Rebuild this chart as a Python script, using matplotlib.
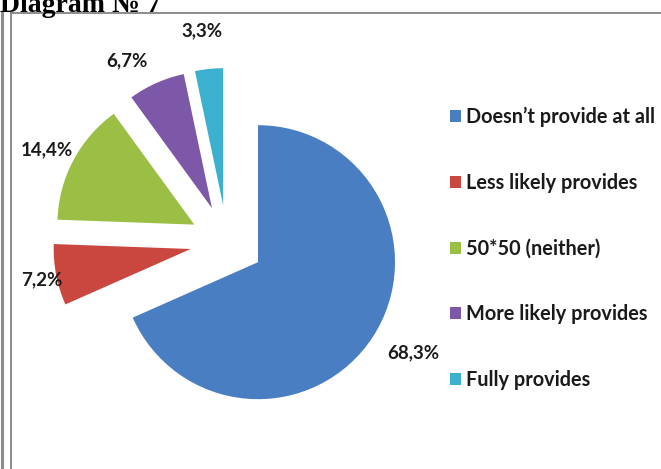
import numpy as np
import matplotlib.pyplot as plt
from matplotlib.lines import Line2D

# ----------------------------
# Data
# ----------------------------
categories = ["Doesn\u2019t provide at all", "Less likely provides", "50*50 (neither)",
              "More likely provides", "Fully provides"]
shares = [68.3, 7.2, 14.4, 6.7, 3.3]
pct_labels = ["68,3%", "7,2%", "14,4%", "6,7%", "3,3%"]
colors = ["#4A7EC3", "#C9473F", "#9BBF45", "#7E58A8", "#3CB0CF"]

W, H = 661, 469
plt.rcParams["font.family"] = ["Lato", "DejaVu Sans"]

fig = plt.figure(figsize=(W / 100, H / 100), dpi=100)
ax = fig.add_axes([0, 0, 1, 1])

# pie in pixel units (y measured from bottom)
cx, cy, r = 227, H - 242, 137
gap = 0.27 * r   # explode is in data units
wedges, _ = ax.pie(shares, colors=colors, startangle=90, counterclock=False,
                   explode=[gap] * len(shares), radius=r, center=(cx, cy),
                   wedgeprops=dict(linewidth=0))
ax.set_xlim(0, W)
ax.set_ylim(0, H)
ax.set_aspect("equal")
ax.axis("off")

# percentage labels just outside each slice (distance factor, angle nudge)
label_dist = [1.31, 1.11, 1.21, 1.24, 1.28]
label_turn = [2.8, 0.9, 1.2, 6.0, 0.9]
for w, txt, k, dt in zip(wedges, pct_labels, label_dist, label_turn):
    ang = np.deg2rad((w.theta1 + w.theta2) / 2 + dt)
    x = w.center[0] + k * r * np.cos(ang)
    y = w.center[1] + k * r * np.sin(ang)
    ax.text(x, y, txt, ha="center", va="center", fontsize=13.5,
            fontweight="bold", color="#1a1a1a")

leg = fig.legend(wedges, categories, loc="upper left",
                 bbox_to_anchor=(450 / W, 1 - 107 / H), frameon=False,
                 prop=dict(size=14.3, weight="bold"), labelspacing=2.3,
                 handlelength=0.55, handleheight=0.55, handletextpad=0.25,
                 borderpad=0, borderaxespad=0)
for t in leg.get_texts():
    t.set_color("#1a1a1a")

# frame lines and the cut-off caption above the chart
fig.add_artist(Line2D([2 / W, 2 / W], [0, 1 - 12 / H], color="#8c8c8c", lw=2.2))
fig.add_artist(Line2D([11 / W, 11 / W], [0, 1 - 13 / H], color="#8c8c8c", lw=1.4))
fig.add_artist(Line2D([11 / W, 1], [1 - 13 / H, 1 - 13 / H], color="#8c8c8c", lw=1.4))
fig.text(0, 1 - 12 / H, "Diagram \u2116 7", ha="left", va="baseline",
         fontsize=20, fontweight="bold", family=["Liberation Serif", "DejaVu Serif"])

fig.savefig("out.png", dpi=100)
